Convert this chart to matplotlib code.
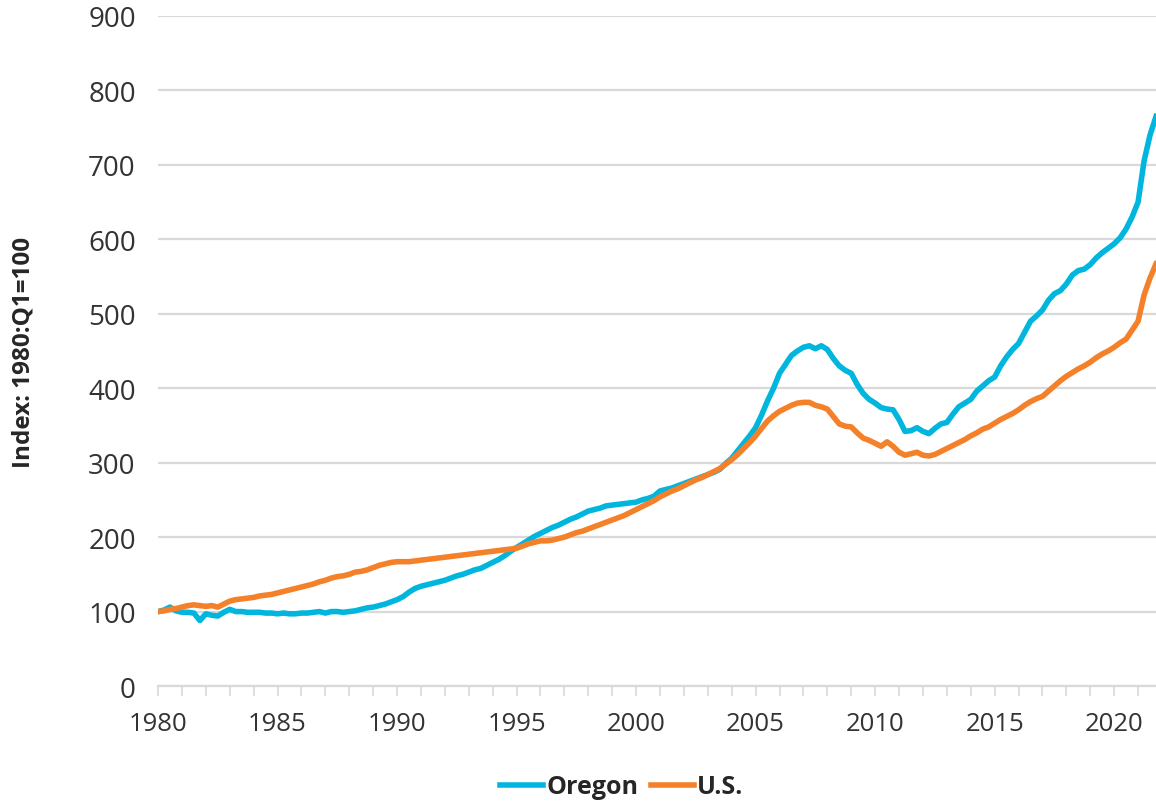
import matplotlib.pyplot as plt
import numpy as np

# quarterly index values, 1980:Q1 .. 2021:Q4 (4 per row = 1 year)
oregon = [
    100, 102, 106, 101,   # 1980
    99, 99, 98, 88,       # 1981
    97, 95, 94, 99,       # 1982
    103, 100, 100, 99,    # 1983
    99, 99, 98, 98,       # 1984
    97, 98, 97, 97,       # 1985
    98, 98, 99, 100,      # 1986
    98, 100, 100, 99,     # 1987
    100, 101, 103, 105,   # 1988
    106, 108, 110, 113,   # 1989
    116, 120, 126, 131,   # 1990
    134, 136, 138, 140,   # 1991
    142, 145, 148, 150,   # 1992
    153, 156, 158, 162,   # 1993
    166, 170, 175, 181,   # 1994
    186, 191, 196, 201,   # 1995
    205, 209, 213, 216,   # 1996
    220, 224, 227, 231,   # 1997
    235, 237, 239, 242,   # 1998
    243, 244, 245, 246,   # 1999
    247, 250, 252, 255,   # 2000
    262, 264, 266, 269,   # 2001
    272, 275, 278, 281,   # 2002
    284, 287, 291, 299,   # 2003
    306, 316, 326, 336,   # 2004
    347, 364, 383, 400,   # 2005
    420, 432, 444, 450,   # 2006
    455, 457, 453, 457,   # 2007
    452, 440, 430, 424,   # 2008
    420, 405, 393, 385,   # 2009
    380, 374, 372, 371,   # 2010
    358, 342, 343, 347,   # 2011
    342, 339, 346, 352,   # 2012
    354, 365, 375, 380,   # 2013
    385, 396, 403, 410,   # 2014
    415, 430, 442, 452,   # 2015
    460, 475, 490, 497,   # 2016
    505, 518, 527, 531,   # 2017
    540, 552, 558, 560,   # 2018
    566, 575, 582, 588,   # 2019
    594, 602, 614, 630,   # 2020
    650, 705, 740, 765,   # 2021
]

us = [
    100, 101, 103, 104,   # 1980
    106, 108, 109, 108,   # 1981
    107, 108, 106, 110,   # 1982
    114, 116, 117, 118,   # 1983
    119, 121, 122, 123,   # 1984
    125, 127, 129, 131,   # 1985
    133, 135, 137, 140,   # 1986
    142, 145, 147, 148,   # 1987
    150, 153, 154, 156,   # 1988
    159, 162, 164, 166,   # 1989
    167, 167, 167, 168,   # 1990
    169, 170, 171, 172,   # 1991
    173, 174, 175, 176,   # 1992
    177, 178, 179, 180,   # 1993
    181, 182, 183, 184,   # 1994
    185, 188, 191, 193,   # 1995
    195, 195, 196, 198,   # 1996
    200, 203, 206, 208,   # 1997
    211, 214, 217, 220,   # 1998
    223, 226, 229, 233,   # 1999
    237, 241, 245, 249,   # 2000
    254, 258, 262, 265,   # 2001
    269, 273, 277, 280,   # 2002
    284, 288, 292, 298,   # 2003
    304, 311, 319, 327,   # 2004
    336, 346, 356, 363,   # 2005
    369, 373, 377, 380,   # 2006
    381, 381, 377, 375,   # 2007
    372, 362, 352, 349,   # 2008
    348, 340, 333, 330,   # 2009
    326, 322, 328, 322,   # 2010
    314, 310, 312, 314,   # 2011
    310, 309, 311, 315,   # 2012
    319, 323, 327, 331,   # 2013
    336, 340, 345, 348,   # 2014
    353, 358, 362, 366,   # 2015
    371, 377, 382, 386,   # 2016
    389, 396, 403, 410,   # 2017
    416, 421, 426, 430,   # 2018
    435, 441, 446, 450,   # 2019
    455, 461, 466, 478,   # 2020
    490, 525, 548, 567,   # 2021
]

start_year = 1980
year_ticks = [1980, 1985, 1990, 1995, 2000, 2005, 2010, 2015, 2020]
y_ticks = [0, 100, 200, 300, 400, 500, 600, 700, 800, 900]

plt.rcParams['font.family'] = ['Open Sans', 'DejaVu Sans']

t = start_year + np.arange(len(oregon)) / 4.0

fig = plt.figure(figsize=(11.56, 8.04), dpi=100)
ax = fig.add_axes([0.1367, 0.1455, 0.8633, 0.8334])

grid_col = '#d9d9d9'
ax.plot(t, oregon, color='#00b6de', lw=4.0, label='Oregon', solid_joinstyle='round')
ax.plot(t, us, color='#f4812a', lw=4.0, label='U.S.', solid_joinstyle='round')

ax.set_xlim(1980, 2021.75)
ax.set_ylim(0, 900)
ax.set_yticks(y_ticks)
ax.set_xticks(year_ticks)
ax.set_xticks(np.arange(1980, 2022), minor=True)
ax.yaxis.grid(True, color=grid_col, lw=1.6)
ax.set_axisbelow(True)

for s in ['top', 'right', 'left']:
    ax.spines[s].set_visible(False)
ax.spines['bottom'].set_color(grid_col)
ax.spines['bottom'].set_linewidth(1.6)

ax.tick_params(axis='y', length=0, pad=16, labelsize=20, labelcolor='#333333')
ax.tick_params(axis='x', which='both', direction='out', color=grid_col, width=1.2,
               length=7, pad=11, labelsize=18.5, labelcolor='#333333')

ax.set_ylabel('Index: 1980:Q1=100', fontsize=17.5, fontweight='bold', color='#262626', labelpad=38)

handles, labels = ax.get_legend_handles_labels()
leg = fig.legend(handles, labels, loc='center', bbox_to_anchor=(0.538, 0.02), ncol=2,
                 frameon=False, handlelength=1.7, handletextpad=0.15, columnspacing=0.5,
                 borderpad=0.1, prop={'size': 18, 'weight': 'bold'})
for txt in leg.get_texts():
    txt.set_color('#262626')

fig.savefig('out.png', dpi=100)
